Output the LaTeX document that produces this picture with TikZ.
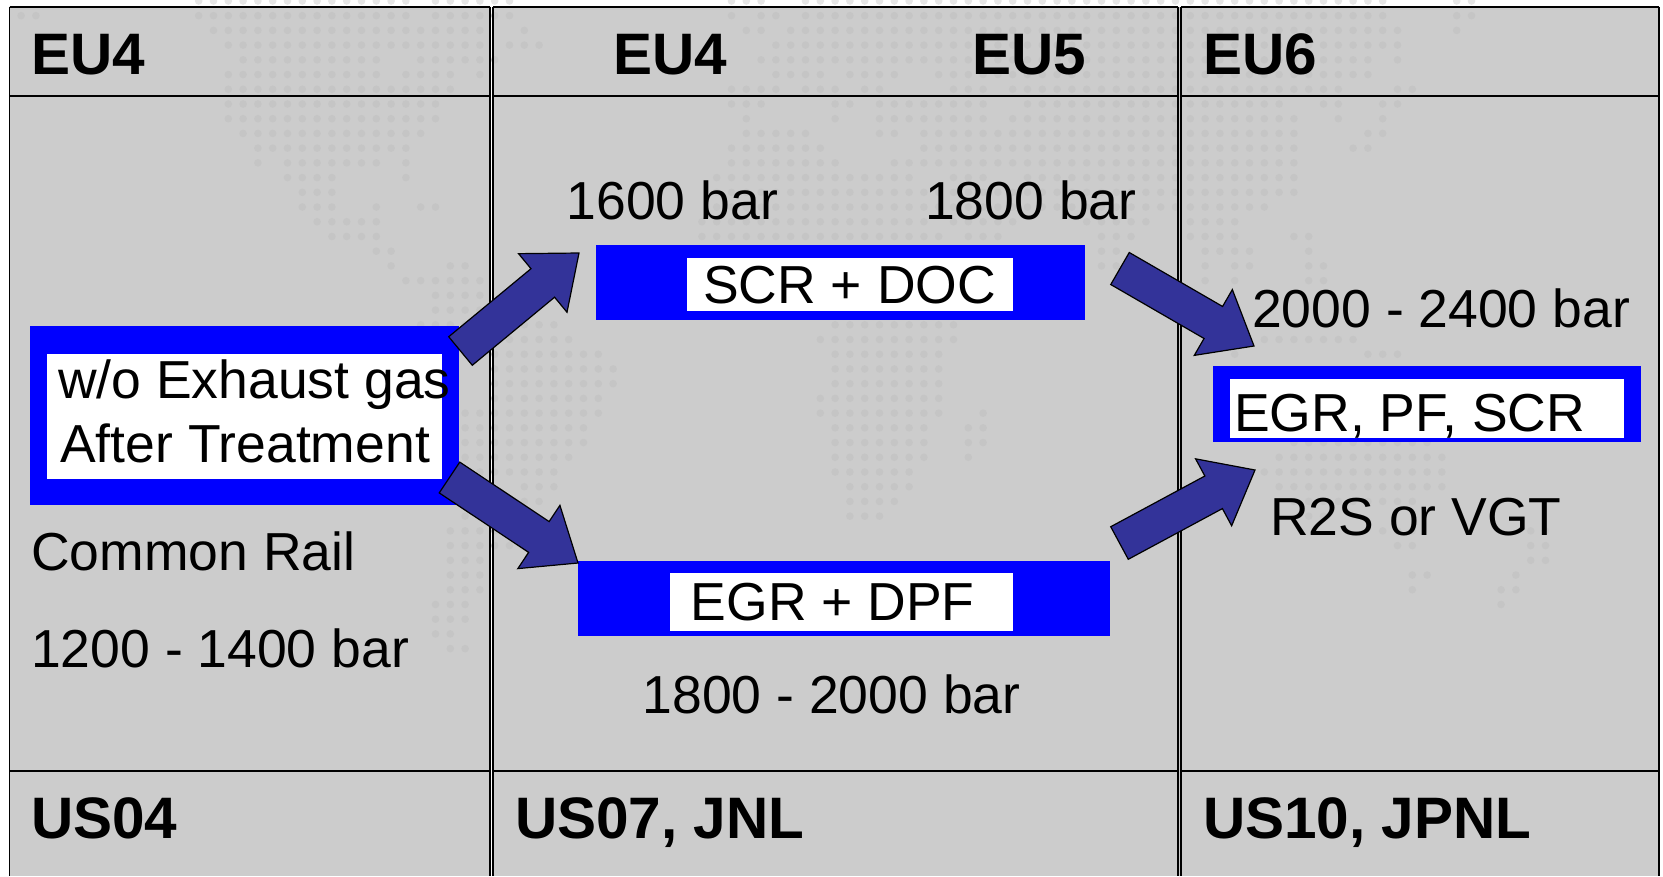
\documentclass[tikz,border=0pt]{standalone}
\usepackage{fontspec}
\setmainfont{Liberation Sans}
\usetikzlibrary{calc,positioning}
\definecolor{panelgray}{HTML}{CCCCCC}
\definecolor{dotgray}{HTML}{C5C5C5}
\definecolor{dotlight}{HTML}{E6E6E6}
\definecolor{arrowblue}{HTML}{333399}
\tikzset{
  panel/.style={fill=panelgray,draw=none},
  rule/.style={draw=black,line width=1.8pt},
  headtxt/.style={anchor=base west,inner sep=0pt,font=\fontsize{58.5}{60}\selectfont\bfseries},
  plaintxt/.style={anchor=base west,inner sep=0pt,font=\fontsize{53.5}{60}\selectfont},
  bluebox/.style={fill=blue,draw=none,inner sep=0pt},
  whitebox/.style={fill=white,draw=none,inner sep=0pt},
  fatarrow/.style={fill=arrowblue,draw=black,line width=1.2pt,line join=miter}
}
% block arrow between two named coordinates
\newcommand{\blockarrow}[2]{%
  \coordinate (nk) at ($(#2)!47pt!(#1)$);
  \draw[fatarrow] ($(#1)!18.5pt!90:(#2)$) -- ($(nk)!18.5pt!90:(#2)$) -- ($(nk)!38pt!90:(#2)$)
    -- (#2) -- ($(nk)!38pt!-90:(#2)$) -- ($(nk)!18.5pt!-90:(#2)$) -- ($(#1)!18.5pt!-90:(#2)$) -- cycle;
}
\begin{document}
\begin{tikzpicture}[x=1pt,y=-1pt]
  \useasboundingbox (0,0) rectangle (1663,876);
  \fill[white] (0,0) rectangle (1663,876);

  % Panels
  \fill[panel] (9.5,6.7) rectangle (490,876);
  \fill[panel] (493,6.7) rectangle (1659,876);

  % Map dots: row/{first/last,...}
  \foreach \k in {13,...,27,29,30,31,32,33,34,49,50,51,54,55,...,93,98,99}
    \fill[dotlight] (6.3+14.8*\k,1) circle (3.8);
  \foreach \r/\spans in {
    1/{1/2,13/27,29/34,49/49,51/52,54/93,98/99},
    2/{14/32,35/35,50/51,53/94,98/98},
    3/{15/32,34/36,52/94},
    4/{16/25,28/33,51/92,94/94},
    5/{15/25,27/30,32/32,52/55,57/60,63/92},
    6/{15/30,49/52,54/56,58/59,64/66,68/90,94/95},
    7/{15/29,49/51,56/57,59/66,69/86,89/90,93/94},
    8/{15/29,50/50,56/56,59/66,68/87,90/90,93/93},
    9/{16/28,50/54,59/60,62/87,92/93},
    10/{17/27,49/55,62/87,91/92},
    11/{17/17,19/25,27/27,49/56,60/87},
    12/{19/22,27/27,48/61,64/66,69/87},
    13/{20/22,48/87},
    14/{20/22,25/25,28/29,48/85},
    15/{21/25,47/62,64/68,73/77,80/83},
    16/{22/25,47/63,65/67,74/76,80/83,87/88},
    17/{25/26,74/75,81/84,88/88},
    18/{26/26,30/31,74/75,81/81,83/84,88/89},
    19/{27/32,81/81,83/83,88/89},
    20/{29/32},
    21/{29/33},
    22/{28/37,56/64},
    23/{33/38,55/64,85/91},
    24/{33/40,56/63,83/83,92/94},
    25/{33/41,56/63},
    26/{33/41,56/63},
    27/{33/40,55/63},
    28/{31/40,55/63,66/66},
    29/{31/39,56/62,65/66},
    30/{31/39,56/62,65/66,87/96},
    31/{31/38,56/62,65/65,86/97},
    32/{31/37,56/61,85/97},
    33/{35/37,57/61,86/97},
    34/{35/36,57/60,87/95},
    35/{31/33,57/59,88/89},
    36/{30/33,93/95,103/104},
    37/{30/35,94/95,103/104},
    38/{30/32,103/104},
    39/{30/32,95/96,102/102},
    40/{30/32,95/95,101/102},
    41/{29/31,101/101},
    42/{29/31},
    43/{29/30},
    44/{30/31}}
    \foreach \a/\b in \spans
      \foreach \k in {\a,...,\b}
        \fill[dotgray] (6.3+14.8*\k,15.67+14.72*\r-14.72) circle (3.8);

  % Rules
  \foreach \xa/\xb in {9.5/490,493/1178,1181/1659} {
    \draw[rule] (\xa,6.7) -- (\xa,876);
    \draw[rule] (\xb,6.7) -- (\xb,876);
    \draw[rule] (\xa,6.7) -- (\xb,6.7);
    \draw[rule] (\xa,95.7) -- (\xb,95.7);
    \draw[rule] (\xa,770.7) -- (\xb,770.7);
  }

  % Boxes
  \node[bluebox,minimum width=429pt,minimum height=179pt] (noatbox) at (244.5,415.5) {};
  \node[whitebox,minimum width=395pt,minimum height=125pt] (noatfill) at (244.5,416.5) {};
  \node[bluebox,minimum width=489pt,minimum height=75pt] (scrbox) at (840.5,282.5) {};
  \node[whitebox,minimum width=326pt,minimum height=53pt] (scrfill) at (850,284.5) {};
  \node[bluebox,minimum width=532pt,minimum height=75pt] (egrbox) at (844,598.5) {};
  \node[whitebox,minimum width=343pt,minimum height=58pt] (egrfill) at (841.5,602) {};
  \node[bluebox,minimum width=428pt,minimum height=75.7pt] (eusixbox) at (1427,403.85) {};
  \node[whitebox,minimum width=394pt,minimum height=58.7pt] (eusixfill) at (1427,408.35) {};

  % Headings
  \node[headtxt] (eufourA) at (31,74) {EU4};
  \node[headtxt] (eufourB) at (613,74) {EU4};
  \node[headtxt] (eufive) at (972,74) {EU5};
  \node[headtxt] (eusix) at (1203,74) {EU6};
  \node[headtxt] (usfour) at (31,838) {US04};
  \node[headtxt] (usseven) at (515,838) {US07, JNL};
  \node[headtxt] (usten) at (1203,838) {US10, JPNL};

  % Labels
  \node[plaintxt] (lblA) at (58,398) {w/o Exhaust gas};
  \node[plaintxt] (lblB) at (60,462) {After Treatment};
  \node[plaintxt] (rail) at (31,570.5) {Common Rail};
  \node[plaintxt] (barA) at (31,667) {1200 - 1400 bar};
  \node[plaintxt] (barB) at (566.5,219.5) {1600 bar};
  \node[plaintxt] (barC) at (925,219.5) {1800 bar};
  \node[plaintxt] (barD) at (642.5,713) {1800 - 2000 bar};
  \node[plaintxt] (barE) at (1252,327) {2000 - 2400 bar};
  \node[plaintxt] (scrtxt) at (703,303) {SCR + DOC};
  \node[plaintxt] (egrtxt) at (690.5,620) {EGR + DPF};
  \node[plaintxt] (eusixtxt) at (1234,431.7) {EGR, PF, SCR};
  \node[plaintxt] (rtwos) at (1270,535) {R2S or VGT};

  % Arrows
  \coordinate (aS) at (460.5,351);
  \coordinate (aE) at (579,253);
  \coordinate (bS) at (449.5,477.5);
  \coordinate (bE) at (578,563);
  \coordinate (cS) at (1120,268.5);
  \coordinate (cE) at (1254,346);
  \coordinate (dS) at (1119.5,543);
  \coordinate (dE) at (1255,470);
  \blockarrow{aS}{aE}
  \blockarrow{bS}{bE}
  \blockarrow{cS}{cE}
  \blockarrow{dS}{dE}
\end{tikzpicture}
\end{document}
